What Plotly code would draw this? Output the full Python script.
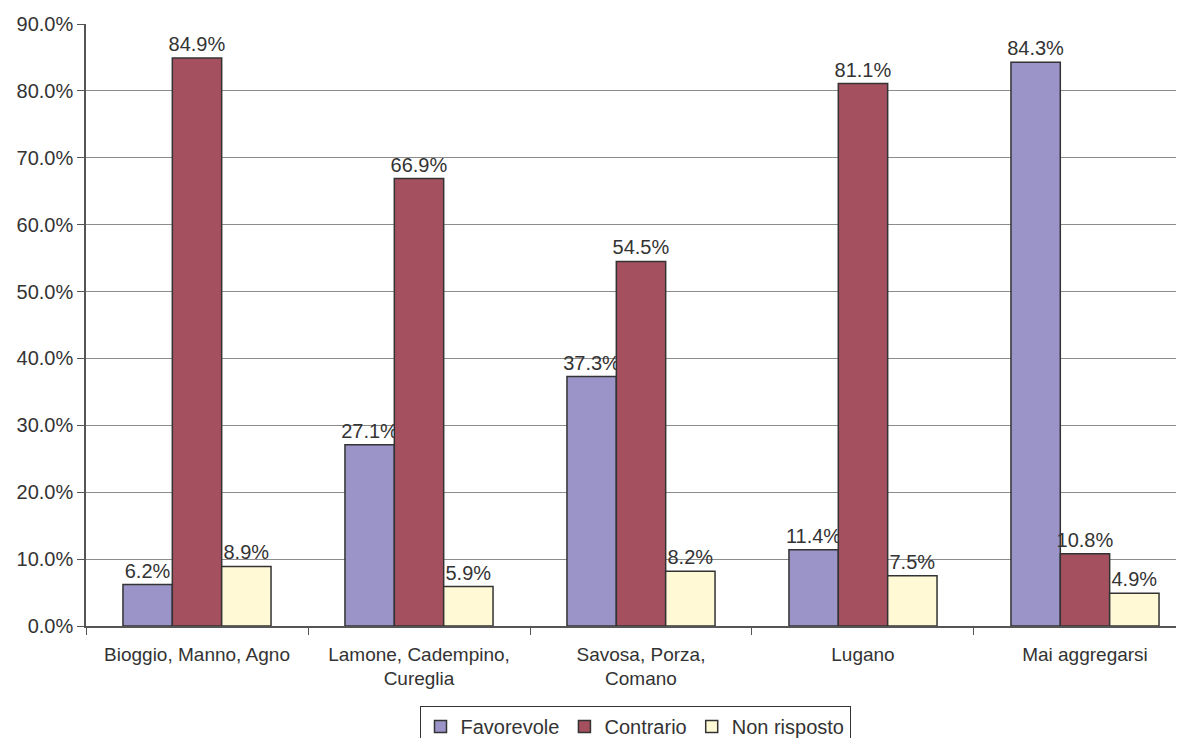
import plotly.graph_objects as go

categories = ["Bioggio, Manno, Agno", "Lamone, Cadempino,<br>Cureglia", "Savosa, Porza,<br>Comano", "Lugano", "Mai aggregarsi"]
favorevole = [6.2, 27.1, 37.3, 11.4, 84.3]
contrario = [84.9, 66.9, 54.5, 81.1, 10.8]
non_risposto = [8.9, 5.9, 8.2, 7.5, 4.9]
y_ticks = [0, 10, 20, 30, 40, 50, 60, 70, 80, 90]

series = [("Favorevole", favorevole, "#9a94c8"),
          ("Contrario", contrario, "#a4505f"),
          ("Non risposto", non_risposto, "#fff9d6")]

FONT = "Liberation Sans, Arial, sans-serif"
fig = go.Figure()
for name, vals, col in series:
    fig.add_trace(go.Bar(
        name=name, x=categories, y=vals,
        marker=dict(color=col, line=dict(color="#333333", width=1.5)),
        text=[f"{v:.1f}%" for v in vals], textposition="outside",
        textfont=dict(family=FONT, size=20, color="#333333"),
        constraintext="none", cliponaxis=False,
    ))

fig.update_layout(
    barmode="group", bargap=0.333, bargroupgap=0,
    width=1176, height=730,
    margin=dict(l=78, r=0, t=16, b=112, autoexpand=False),
    plot_bgcolor="white", paper_bgcolor="white",
    font=dict(family=FONT, size=20, color="#333333"),
    showlegend=True,
    legend=dict(orientation="h", x=0.5, xanchor="center", y=-0.133, yanchor="top",
                bordercolor="#333333", borderwidth=1, font=dict(size=20),
                itemwidth=30, tracegroupgap=0, traceorder="normal"),
)
fig.update_xaxes(
    range=[-0.5, 4.446], showline=True, linecolor="#555555", linewidth=1.5,
    ticks="outside", ticklen=7, tickcolor="#555555", tickson="boundaries",
    ticklabelstandoff=10,
    tickfont=dict(size=19, color="#333333"), showgrid=False, automargin=False,
)
fig.update_yaxes(
    range=[0, 90], tickvals=y_ticks, ticktext=[f"{v:.1f}%" for v in y_ticks],
    showline=True, linecolor="#555555", linewidth=1.5,
    ticks="outside", ticklen=7, tickcolor="#555555",
    showgrid=True, gridcolor="#8c8c8c", gridwidth=1,
    tickfont=dict(size=20, color="#333333"), zeroline=False, automargin=False,
)
fig.write_html("out.html")
